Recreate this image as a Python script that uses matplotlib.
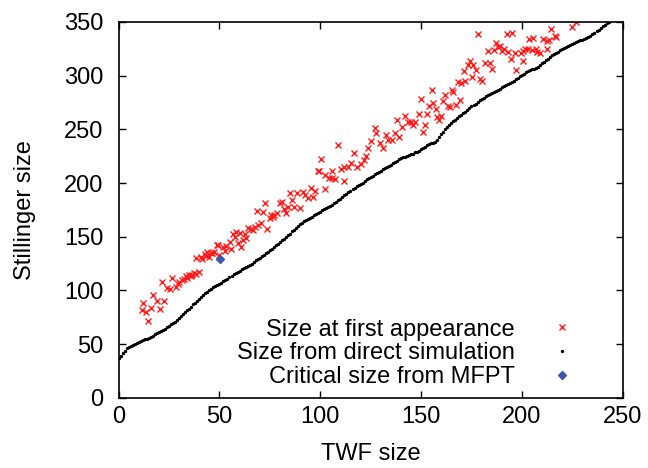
import matplotlib.pyplot as plt
import numpy as np

plt.rcParams['font.family'] = ['Liberation Sans', 'DejaVu Sans']

# Size from direct simulation: one point per TWF size
sim_x = list(range(0, 244))
sim_y = [37, 39, 42, 44, 46, 47, 48, 49, 50, 51,
         52, 53, 54, 54.5, 55, 56, 57, 58, 59, 60,
         61, 62, 63, 64.5, 66, 67, 68.5, 70, 71, 72.5,
         74, 76, 78, 80, 81.5, 83, 85, 87, 88.5, 90,
         92, 94, 96, 97.5, 99, 100, 101.5, 103, 104, 105,
         106, 107, 108.5, 110, 111, 112.5, 113.5, 115, 116, 117,
         118.5, 119.5, 120.5, 121.5, 122.5, 124, 125, 126.5, 128, 129,
         130.5, 132, 133, 134.5, 136, 137.5, 139, 140.5, 142, 143.5,
         145, 146.5, 148, 150, 151.5, 153, 155, 156.5, 158, 160,
         162, 163, 164.5, 165.5, 166.5, 167.5, 168.5, 170, 171, 172,
         173.5, 174.5, 175.5, 176.5, 177.5, 178.5, 180, 181, 182.5, 184,
         185.5, 187, 188.5, 190, 191.5, 193, 194.5, 195.5, 197, 198,
         199.5, 200.5, 202, 203.5, 204.5, 206, 207, 208, 209, 210.5,
         211.5, 213, 214, 215, 216, 217, 218.5, 219.5, 220.5, 222,
         223, 224, 224.5, 225.5, 226, 227, 227.5, 228.5, 229, 230,
         231.5, 233, 234, 235, 236, 237, 237.5, 238.5, 240, 243,
         245.5, 248, 250, 252, 254, 256, 257.5, 259, 260.5, 262,
         263.5, 265, 266.5, 268, 270, 271.5, 272.5, 274, 275.5, 277,
         278, 279.5, 281, 282, 283, 284, 285, 286, 287, 288,
         289, 290, 291, 292.5, 293.5, 294.5, 295.5, 297, 298, 299.5,
         300.5, 302, 303.5, 304.5, 305.5, 306, 306.5, 307, 308.5, 310,
         311.5, 313, 314.5, 316, 317.5, 319, 320, 321.5, 322.5, 323.5,
         324.5, 325.5, 326.5, 327.5, 328.5, 329.5, 330.5, 331.5, 332, 333,
         333.5, 334.5, 335, 336, 337, 338.5, 340, 341.5, 343, 344.5,
         346, 347.5, 349, 350]

# Size at first appearance
app_x = [11.5, 12.3, 13.5, 14.6, 16.3, 17.2, 19.0, 20.6, 22.5, 21.4,
         24.2, 25.5, 26.7, 28.7, 30.0, 31.6, 33.3, 34.0, 35.0, 36.0,
         36.6, 37.5, 38.2, 39.9, 38.6, 40.7, 42.9, 44.0, 44.8, 45.7,
         47.3, 48.6, 49.8, 49.3, 51.8, 52.6, 55.1, 55.9, 56.7, 58.4,
         59.2, 60.5, 61.7, 62.5, 60.0, 64.2, 65.8, 67.5, 69.1, 70.8,
         73.7, 68.8, 71.6, 72.7, 74.9, 75.7, 77.0, 78.7, 79.9, 81.0,
         83.2, 84.0, 84.8, 86.0, 87.0, 88.6, 89.8, 91.4, 92.6, 93.9,
         95.2, 96.4, 97.5, 99.2, 100.2, 98.9, 102.5, 102.2, 104.2, 105.8,
         105.8, 107.4, 108.8, 110.1, 111.7, 112.0, 113.7, 115.4, 116.7, 118.3,
         120.0, 121.7, 122.8, 123.6, 125.3, 127.0, 127.8, 129.4, 131.1, 132.7,
         133.5, 135.5, 136.9, 138.2, 139.3, 140.5, 142.1, 143.5, 145.1, 145.9,
         147.1, 148.8, 150.0, 151.0, 151.9, 153.0, 154.0, 155.2, 156.0, 157.2,
         158.0, 159.7, 159.0, 160.9, 162.1, 163.4, 164.3, 165.1, 165.9, 167.2,
         168.4, 169.2, 170.0, 171.2, 172.0, 173.3, 174.2, 175.3, 175.8, 177.2,
         178.3, 179.1, 180.0, 181.6, 183.3, 184.1, 185.4, 186.1, 187.4, 188.2,
         189.0, 189.9, 191.0, 192.4, 193.2, 194.4, 195.3, 196.5, 197.3, 199.5,
         200.6, 201.4, 200.3, 203.0, 203.6, 205.3, 204.8, 206.9, 207.5, 208.9,
         210.5, 212.2, 212.5, 213.5, 214.3, 216.3, 217.1, 224.6, 227.0, 29.5,
         32.5, 41.5, 43.5, 46.5, 53.5, 57.5, 63.0, 66.5, 76.5, 82.0]
app_y = [82.0, 88.7, 80.0, 71.7, 84.0, 96.0, 90.6, 83.0, 90.6, 108.0,
         102.0, 101.0, 112.0, 103.6, 108.0, 110.0, 113.0, 112.0, 114.0, 113.5,
         114.5, 116.0, 115.0, 116.7, 130.0, 131.0, 133.8, 136.0, 131.0, 134.7,
         136.0, 142.5, 133.0, 142.5, 140.0, 136.7, 145.5, 138.5, 152.4, 154.8,
         144.0, 140.0, 147.0, 152.4, 153.3, 158.0, 157.0, 159.0, 161.0, 162.6,
         157.0, 174.0, 173.0, 181.0, 167.0, 170.0, 170.0, 172.5, 181.0, 182.8,
         172.0, 178.0, 191.0, 184.0, 177.5, 191.0, 176.6, 192.0, 189.0, 186.0,
         195.0, 187.4, 193.0, 211.6, 222.0, 211.0, 194.0, 207.6, 204.5, 211.0,
         204.5, 203.6, 235.6, 213.0, 215.4, 202.3, 214.8, 219.0, 227.8, 214.8,
         218.0, 221.6, 225.3, 232.5, 239.6, 251.0, 246.5, 237.7, 232.5, 244.9,
         240.0, 240.0, 247.0, 258.8, 243.3, 252.0, 262.0, 256.4, 256.4, 254.2,
         257.3, 264.0, 278.7, 247.4, 254.5, 264.7, 272.0, 287.0, 274.7, 269.0,
         261.3, 262.6, 259.0, 276.0, 281.8, 271.6, 270.7, 287.0, 285.0, 272.5,
         294.0, 277.7, 293.3, 304.0, 295.4, 310.0, 313.5, 298.6, 310.0, 305.7,
         339.0, 297.0, 295.4, 312.0, 322.8, 312.0, 306.6, 324.0, 330.5, 326.5,
         328.0, 323.4, 325.2, 339.2, 321.8, 316.0, 340.0, 321.2, 305.0, 321.2,
         322.8, 325.2, 313.5, 325.0, 334.0, 335.5, 324.0, 325.0, 322.0, 321.0,
         334.0, 332.4, 325.0, 333.3, 343.3, 337.0, 335.8, 345.7, 350.4, 106.0,
         111.0, 129.0, 132.0, 135.0, 141.0, 150.0, 149.0, 156.0, 168.0, 176.0]

# Critical size from MFPT
mfpt_x = [50.5]
mfpt_y = [129]

fig = plt.figure(figsize=(6.48, 4.68), dpi=100)
ax = fig.add_axes([0.183, 0.15, 0.778, 0.803])

ax.plot(app_x, app_y, linestyle='none', marker='x', color='#ff1a1a',
        markersize=4.0, markeredgewidth=1.0, label='Size at first appearance')
ax.plot(sim_x, sim_y, linestyle='none', marker='o', color='black',
        markersize=1.4, label='Size from direct simulation')
ax.plot(mfpt_x, mfpt_y, linestyle='none', marker='D', color='#3a5aa8',
        markersize=4.5, label='Critical size from MFPT')

ax.set_xlim(0, 250)
ax.set_ylim(0, 350)
ax.set_xticks(np.arange(0, 251, 50))
ax.set_yticks(np.arange(0, 351, 50))
ax.tick_params(direction='in', length=5, width=1, top=True, right=True,
               labelsize=17)
ax.tick_params(axis='x', pad=6)
ax.tick_params(axis='y', pad=11)
for s in ax.spines.values():
    s.set_linewidth(1.2)

ax.set_xlabel('TWF size', fontsize=17, labelpad=11)
ax.set_ylabel('Stillinger size', fontsize=17, labelpad=20)

leg = ax.legend(loc='lower right', markerfirst=False, frameon=False,
                fontsize=17, numpoints=1, handlelength=1.0,
                handletextpad=1.5, labelspacing=0.08, borderaxespad=0.0,
                bbox_to_anchor=(0.921, 0.0))
for t in leg.get_texts():
    t.set_ha('right')

fig.savefig('out.png', dpi=100)
